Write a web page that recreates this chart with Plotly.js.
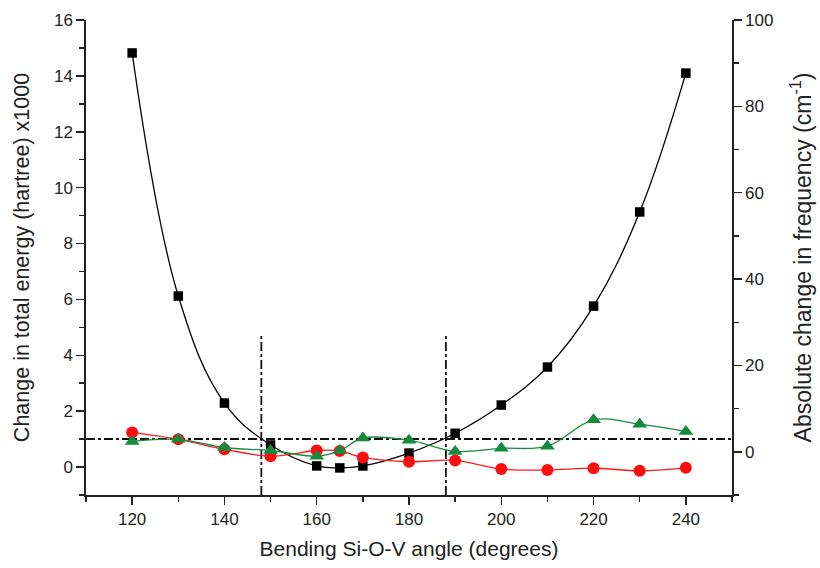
<!DOCTYPE html>
<html>
<head>
<meta charset="utf-8">
<script src="https://cdn.plot.ly/plotly-3.0.1.min.js"></script>
<style>html,body{margin:0;padding:0;background:#fff;}#chart{width:820px;height:568px;}</style>
</head>
<body>
<div id="chart"></div>
<script>
// Bending Si-O-V angle (degrees)
var angles = [120, 130, 140, 150, 160, 165, 170, 180, 190, 200, 210, 220, 230, 240];
// Change in total energy (hartree) x1000  (left axis)
var energy = [14.82, 6.12, 2.29, 0.79, 0.04, -0.03, 0.04, 0.5, 1.21, 2.22, 3.58, 5.76, 9.13, 14.1];
// Absolute change in frequency (cm^-1) (right axis)
var freqRed = [4.5, 2.9, 0.6, -1.0, 0.3, 0.2, -1.3, -2.3, -2.0, -4.0, -4.2, -3.8, -4.4, -3.7];
var freqGreen = [2.4, 2.9, 1.0, 0.3, -1.0, 0.3, 3.2, 2.7, 0.1, 0.8, 1.3, 7.4, 6.4, 4.7];
// reference lines
var refLevel = [1, 1];
var refSpan = [0, 1];
var boundaryAngles = [148, 188];
var boundaryRange = [-1, 4.7];

var textColor = '#222';
var fontFam = '"Liberation Sans", Arial, Helvetica, sans-serif';

var traces = [
  {x: angles, y: energy, type: 'scatter', mode: 'lines+markers', yaxis: 'y',
   line: {color: '#000', width: 1.3, shape: 'spline', smoothing: 1.1},
   marker: {symbol: 'square', size: 9.5, color: '#000'}, cliponaxis: false},
  {x: angles, y: freqRed, type: 'scatter', mode: 'lines+markers', yaxis: 'y2',
   line: {color: '#ff1a1a', width: 1.3, shape: 'spline', smoothing: 1.0},
   marker: {symbol: 'circle', size: 12, color: '#ff0d0d'}, cliponaxis: false},
  {x: angles, y: freqGreen, type: 'scatter', mode: 'lines+markers', yaxis: 'y2',
   line: {color: '#168c40', width: 1.3, shape: 'spline', smoothing: 1.0},
   marker: {symbol: 'triangle-up', size: 13, color: '#138a3c'}, cliponaxis: false}
];

var shapes = [
  {type: 'line', xref: 'paper', yref: 'y', x0: refSpan[0], x1: refSpan[1], y0: refLevel[0], y1: refLevel[1],
   line: {color: '#111', width: 2, dash: 'dashdot'}, layer: 'below'}
];
boundaryAngles.forEach(function(a){
  shapes.push({type: 'line', xref: 'x', yref: 'y', x0: a, x1: a, y0: boundaryRange[0], y1: boundaryRange[1],
    line: {color: '#111', width: 1.8, dash: 'dashdot'}, layer: 'below'});
});

var minorTicks = function(d){ return {dtick: d, ticks: 'outside', ticklen: 5, tickwidth: 1.5, tickcolor: '#222'}; };
var axisCommon = {
  showgrid: false, zeroline: false, showline: true, linecolor: '#222', linewidth: 1.6,
  ticks: 'outside', ticklen: 8, tickwidth: 1.5, tickcolor: '#222',
  tickfont: {family: fontFam, size: 17, color: textColor}
};
var titleFont = {family: fontFam, size: 21, color: textColor};

var layout = {
  width: 820, height: 568,
  margin: {l: 86, r: 88, t: 20, b: 73},
  paper_bgcolor: '#fff', plot_bgcolor: '#fff',
  showlegend: false,
  font: {family: fontFam, color: textColor},
  xaxis: Object.assign({}, axisCommon, {
    range: [110, 250], tick0: 0, dtick: 20, minor: minorTicks(10),
    title: {text: 'Bending Si-O-V angle (degrees)', font: titleFont, standoff: 13}
  }),
  yaxis: Object.assign({}, axisCommon, {
    range: [-1, 16], tick0: 0, dtick: 2, minor: minorTicks(1),
    title: {text: 'Change in total energy (hartree) x1000', font: {family: fontFam, size: 21.5, color: textColor}, standoff: 18}
  }),
  yaxis2: Object.assign({}, axisCommon, {
    overlaying: 'y', side: 'right', anchor: 'x',
    range: [-10, 100], tick0: 0, dtick: 20, minor: minorTicks(10),
    title: {text: 'Absolute change in frequency (cm<sup>-1</sup>)', font: {family: fontFam, size: 23, color: textColor}, standoff: 22}
  }),
  shapes: shapes
};

Plotly.newPlot('chart', traces, layout, {displayModeBar: false, staticPlot: true});
</script>
</body>
</html>
